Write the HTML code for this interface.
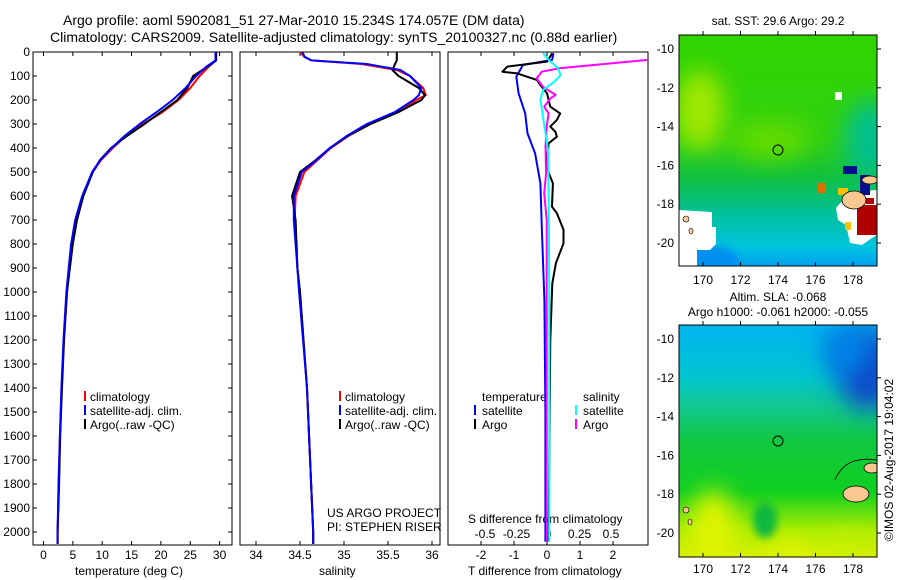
<!DOCTYPE html>
<html><head><meta charset="utf-8"><style>
html,body{margin:0;padding:0;background:#fff;}
svg{display:block;font-family:"Liberation Sans",sans-serif;}
text{font-size:12px;fill:#000;}
</style></head><body>
<svg id="fig" width="900" height="580" viewBox="0 0 900 580">
<defs>
<clipPath id="c1"><rect x="33" y="52" width="199" height="493"/></clipPath>
<clipPath id="c2"><rect x="240" y="52" width="200" height="493"/></clipPath>
<clipPath id="c3"><rect x="448" y="52" width="200" height="493"/></clipPath>
<clipPath id="cm1"><rect x="679" y="35" width="198" height="231"/></clipPath>
<clipPath id="cm2"><rect x="679" y="325" width="198" height="232"/></clipPath>
<filter id="bl" x="-50%" y="-50%" width="200%" height="200%"><feGaussianBlur stdDeviation="12"/></filter>
<filter id="bl2" x="-50%" y="-50%" width="200%" height="200%"><feGaussianBlur stdDeviation="4"/></filter>
<linearGradient id="g1" x1="0" y1="0" x2="0" y2="1">
<stop offset="0" stop-color="#30d400"/><stop offset="0.45" stop-color="#30d010"/><stop offset="0.62" stop-color="#10c040"/><stop offset="0.78" stop-color="#00c0a0"/><stop offset="0.92" stop-color="#00c4e0"/><stop offset="1" stop-color="#00a0f0"/></linearGradient>
<linearGradient id="g2" x1="0" y1="0" x2="0" y2="1">
<stop offset="0" stop-color="#00b4f0"/><stop offset="0.22" stop-color="#00c4d0"/><stop offset="0.35" stop-color="#10c890"/><stop offset="0.5" stop-color="#10c840"/><stop offset="0.72" stop-color="#10d020"/><stop offset="0.88" stop-color="#a8ec00"/><stop offset="1" stop-color="#d8f000"/></linearGradient>
</defs>

<text x="63" y="25" style="font-size:14px">Argo profile: aoml 5902081_51 27-Mar-2010 15.234S 174.057E (DM data)</text>
<text x="50" y="42" style="font-size:14px">Climatology: CARS2009. Satellite-adjusted climatology: synTS_20100327.nc (0.88d earlier)</text>

<g id="p1"><rect x="33" y="52" width="199" height="493" fill="none" stroke="#000"/></g>
<g id="p2"><rect x="240" y="52" width="200" height="493" fill="none" stroke="#000"/></g>
<g id="p3"><rect x="448" y="52" width="200" height="493" fill="none" stroke="#000"/></g>

<g>
<rect x="84" y="391" width="2" height="10" fill="#f00"/><text x="90" y="401">climatology</text>
<rect x="84" y="405" width="2" height="10" fill="#00f"/><text x="90" y="415">satellite-adj. clim.</text>
<rect x="84" y="419" width="2" height="10" fill="#000"/><text x="90" y="429">Argo(..raw -QC)</text>
</g>
<g>
<rect x="339" y="391" width="2" height="10" fill="#f00"/><text x="345" y="401">climatology</text>
<rect x="339" y="405" width="2" height="10" fill="#00f"/><text x="345" y="415">satellite-adj. clim.</text>
<rect x="339" y="419" width="2" height="10" fill="#000"/><text x="345" y="429">Argo(..raw -QC)</text>
</g>
<text x="327" y="517">US ARGO PROJECT</text>
<text x="327" y="531">PI: STEPHEN RISER</text>
<g>
<text x="482" y="401">temperature</text><text x="583" y="401">salinity</text>
<rect x="474" y="405" width="2" height="10" fill="#00f"/><text x="482" y="415">satellite</text>
<rect x="474" y="419" width="2" height="10" fill="#000"/><text x="482" y="429">Argo</text>
<rect x="575" y="405" width="2" height="10" fill="#0ff"/><text x="583" y="415">satellite</text>
<rect x="575" y="419" width="2" height="10" fill="#f0f"/><text x="583" y="429">Argo</text>
</g>
<text x="468" y="523">S difference from climatology</text>
<text x="75" y="575">temperature (deg C)</text>
<text x="319" y="575">salinity</text>
<text x="468" y="575">T difference from climatology</text>

<g>
<g clip-path="url(#cm1)">
<rect x="679" y="35" width="198" height="231" fill="url(#g1)"/>
<ellipse cx="700" cy="110" rx="25" ry="40" fill="#a0e800" filter="url(#bl)"/>
<ellipse cx="770" cy="140" rx="40" ry="20" fill="#60dc00" filter="url(#bl)"/>
<ellipse cx="870" cy="140" rx="25" ry="40" fill="#00c090" filter="url(#bl)"/>
<ellipse cx="700" cy="262" rx="40" ry="18" fill="#0090f0" filter="url(#bl2)"/>
<path d="M679 210 L712 212 L712 227 L716 227 L716 244 L710 250 L697 250 L697 266 L679 266Z" fill="#fff"/>
<path d="M877 190 L850 192 L843 200 L836 208 L838 220 L846 225 L850 243 L862 245 L872 238 L877 235Z" fill="#fff"/>
<rect x="835" y="92" width="7" height="8" fill="#fff"/>
<rect x="843" y="166" width="14" height="8" fill="#00108c"/>
<rect x="860" y="175" width="10" height="20" fill="#00108c"/>
<rect x="857" y="205" width="20" height="30" fill="#b00000"/>
<rect x="866" y="198" width="8" height="6" fill="#b00000"/>
<rect x="818" y="183" width="8" height="10" fill="#e07000"/>
<rect x="845" y="222" width="6" height="8" fill="#f8c000"/>
<rect x="838" y="188" width="10" height="7" fill="#f8c000"/>
<ellipse cx="854" cy="200" rx="12" ry="9" fill="#f8c890" stroke="#000" stroke-width="0.8"/>
<ellipse cx="870" cy="180" rx="8" ry="4" fill="#f8c890" stroke="#000" stroke-width="0.8"/>
<ellipse cx="686" cy="219" rx="3" ry="3" fill="#f8c890" stroke="#000" stroke-width="0.6"/>
<ellipse cx="691" cy="231" rx="2" ry="3" fill="#f8c890" stroke="#000" stroke-width="0.6"/>
<circle cx="778" cy="150" r="5" fill="none" stroke="#000"/>
</g>
<rect x="679" y="35" width="198" height="231" fill="none" stroke="#000"/>
</g>
<text x="778" y="25" text-anchor="middle">sat. SST: 29.6 Argo: 29.2</text>

<g>
<g clip-path="url(#cm2)">
<rect x="679" y="325" width="198" height="232" fill="url(#g2)"/>
<ellipse cx="868" cy="370" rx="30" ry="40" fill="#1048c8" filter="url(#bl)"/>
<ellipse cx="845" cy="350" rx="25" ry="25" fill="#0080e8" filter="url(#bl)"/>
<ellipse cx="713" cy="530" rx="22" ry="40" fill="#e0f400" filter="url(#bl)"/>
<ellipse cx="790" cy="555" rx="20" ry="14" fill="#e0f400" filter="url(#bl)"/>
<ellipse cx="846" cy="550" rx="18" ry="14" fill="#c8f000" filter="url(#bl)"/>
<ellipse cx="765" cy="520" rx="12" ry="18" fill="#10b840" filter="url(#bl2)"/>
<ellipse cx="856" cy="494" rx="13" ry="8" fill="#f8c890" stroke="#000" stroke-width="0.8"/>
<ellipse cx="872" cy="468" rx="8" ry="5" fill="#f8c890" stroke="#000" stroke-width="0.8"/>
<path d="M835 480 Q845 455 877 460" fill="none" stroke="#000" stroke-width="0.8"/>
<ellipse cx="686" cy="510" rx="3" ry="3" fill="#f8c890" stroke="#000" stroke-width="0.6"/>
<ellipse cx="690" cy="522" rx="2" ry="3" fill="#f8c890" stroke="#000" stroke-width="0.6"/>
<circle cx="778" cy="441" r="5" fill="none" stroke="#000"/>
</g>
<rect x="679" y="325" width="198" height="232" fill="none" stroke="#000"/>
</g>
<text x="778" y="301" text-anchor="middle">Altim. SLA: -0.068</text>
<text x="778" y="316" text-anchor="middle">Argo h1000: -0.061 h2000: -0.055</text>
<text transform="translate(893,460) rotate(-90)" text-anchor="middle">©IMOS 02-Aug-2017 19:04:02</text>
</svg>

<script>
const NS='http://www.w3.org/2000/svg';
const svg=document.getElementById('fig');
const depthTicks=[0,100,200,300,400,500,600,700,800,900,1000,1100,1200,1300,1400,1500,1600,1700,1800,1900,2000];
const tempTicks=[0,5,10,15,20,25,30];
const salTicks=[34,34.5,35,35.5,36];
const tdiffTicks=[-2,-1,0,1,2];
const sdiffTicks=[-0.5,-0.25,0,0.25,0.5];
const lonTicks=[170,172,174,176,178];
const latTicks=[-10,-12,-14,-16,-18,-20];

const tempDepth=[0,35,60,100,150,200,250,300,350,400,450,500,600,700,800,900,1000,1200,1400,1600,1800,2000,2050];
const tempClim=[29.4,29.4,28.2,26.6,25.0,23.0,20.3,17.0,14.0,11.8,9.8,8.4,6.7,5.6,4.9,4.4,4.0,3.5,3.1,2.8,2.6,2.4,2.4];
const tempSat=[29.3,29.3,27.8,26.0,24.2,22.0,19.3,16.4,13.8,11.6,9.7,8.3,6.6,5.4,4.7,4.3,3.9,3.4,3.05,2.8,2.55,2.4,2.4];
const tempArgo=[29.4,29.4,28.0,25.5,24.5,22.8,20.0,17.2,14.2,11.5,9.6,8.4,6.8,5.7,5.0,4.5,4.0,3.5,3.15,2.85,2.65,2.4,2.4];

const salDepth=[0,20,35,50,75,100,150,180,200,250,300,350,400,450,500,600,700,800,900,1000,1400,2000,2050];
const salClim=[34.5,34.55,34.63,35.2,35.6,35.75,35.9,35.93,35.82,35.62,35.3,35.05,34.85,34.7,34.55,34.45,34.44,34.46,34.47,34.5,34.58,34.65,34.65];
const salSat=[34.53,34.55,34.63,35.26,35.64,35.75,35.88,35.85,35.79,35.58,35.26,35.03,34.84,34.69,34.52,34.43,34.43,34.45,34.47,34.49,34.58,34.65,34.65];
const salArgo=[35.6,35.6,35.6,35.58,35.55,35.62,35.85,35.92,35.88,35.62,35.3,35.04,34.84,34.68,34.5,34.41,34.45,34.46,34.47,34.5,34.58,34.65,34.65];

const tSatDepth=[5,33,54,103,172,256,339,422,547,755,1033,1500,2040];
const tSatDiff=[0.2,0.15,-0.73,-0.93,-0.86,-0.66,-0.59,-0.36,-0.2,-0.15,-0.08,-0.05,-0.05];
const tArgoDepth=[5,40,61,82,89,117,138,172,228,256,283,311,332,353,381,478,547,644,672,741,797,880,964,1200,2040];
const tArgoDiff=[0.16,0.0,-1.2,-1.35,-0.9,-0.3,-0.2,0,0.1,0.4,0.3,0.1,0.25,0.3,0.05,-0.02,0.18,0.15,0.3,0.5,0.5,0.27,0.16,0.1,0.05];
const sSatDepth=[5,33,68,96,124,158,200,270,408,600,1000,2040];
const sSatDiff=[-0.04,0.005,0.08,0.1,0.05,-0.04,-0.06,-0.04,0,0.005,0.01,0.01];
const sArgoDepth=[20,33,68,82,110,145,179,193,228,256,311,394,506,589,700,1000,2040];
const sArgoDiff=[0.9,0.79,0.09,-0.05,-0.09,-0.04,0.06,0.02,-0.03,0.005,-0.01,-0.02,-0.015,-0.03,-0.01,-0.01,-0.01];

const yD=d=>52+d*0.24;
const xT=t=>43.5+t*5.87;
const xS=s=>256+(s-34)*88;
const xTd=v=>547+v*33;
const xSd=v=>548+v*126;
const xLon=l=>703+(l-170)*18.75;
const yLat1=l=>49+(-10-l)*19.4;
const yLat2=l=>339+(-10-l)*19.4;

function mk(tag,attrs,parent){const e=document.createElementNS(NS,tag);for(const k in attrs)e.setAttribute(k,attrs[k]);(parent||svg).appendChild(e);return e;}

depthTicks.forEach(d=>{
 const t=mk('text',{x:30,y:yD(d)+4,'text-anchor':'end'});t.textContent=d;
 
 
 mk('line',{x1:33,x2:37,y1:yD(d),y2:yD(d),stroke:'#000'});
 mk('line',{x1:228,x2:232,y1:yD(d),y2:yD(d),stroke:'#000'});
});
function xaxis(ticks,fx,y,name,top,bottom){ticks.forEach(v=>{
 const t=mk('text',{x:fx(v),y:y,'text-anchor':'middle'});t.textContent=v;
 
 
 if(top!==undefined)mk('line',{x1:fx(v),x2:fx(v),y1:top,y2:top+4,stroke:'#000'});
 if(bottom!==undefined)mk('line',{x1:fx(v),x2:fx(v),y1:bottom-4,y2:bottom,stroke:'#000'});
});}
xaxis(tempTicks,xT,559,'temperature-tick-label',52,545);
xaxis(salTicks,v=>xS(v),559,'salinity-tick-label',52,545);
xaxis(tdiffTicks,xTd,559,'t-diff-tick-label',52,545);
xaxis(sdiffTicks,v=>xSd(v),538,'s-diff-tick-label');
function lonaxis(y,top,bot){lonTicks.forEach(l=>{
 const t=mk('text',{x:xLon(l),y:y,'text-anchor':'middle'});t.textContent=l;
 
 
 mk('line',{x1:xLon(l),x2:xLon(l),y1:top-4,y2:top,stroke:'#000'});
 mk('line',{x1:xLon(l),x2:xLon(l),y1:bot-4,y2:bot,stroke:'#000'});
});}
lonaxis(284,35,266);lonaxis(573,325,557);
function lataxis(fy){latTicks.forEach(l=>{
 const t=mk('text',{x:674,y:fy(l)+4,'text-anchor':'end'});t.textContent=l;
 
 
 mk('line',{x1:877,x2:881,y1:fy(l),y2:fy(l),stroke:'#000'});
});}
lataxis(yLat1);lataxis(yLat2);

function line(depths,vals,fx,color,clip,name,w){
 const pts=depths.map((d,i)=>fx(vals[i]).toFixed(1)+','+yD(d).toFixed(1));
 const p=mk('polyline',{points:pts.join(' '),fill:'none',stroke:color,'stroke-width':w||2,'clip-path':'url(#'+clip+')','stroke-linejoin':'round'});
 
 
}
line(tempDepth,tempClim,xT,'#f00','c1','temp-climatology-line');
line(tempDepth,tempArgo,xT,'#000','c1','temp-argo-line');
line(tempDepth,tempSat,xT,'#00f','c1','temp-satellite-line');
line(salDepth,salClim,xS,'#f00','c2','sal-climatology-line');
line(salDepth,salArgo,xS,'#000','c2','sal-argo-line');
line(salDepth,salSat,xS,'#00f','c2','sal-satellite-line');
line(tSatDepth,tSatDiff,xTd,'#00f','c3','tdiff-satellite-line');
line(tArgoDepth,tArgoDiff,xTd,'#000','c3','tdiff-argo-line');
line(sArgoDepth,sArgoDiff,xSd,'#f0f','c3','sdiff-argo-line');
line(sSatDepth,sSatDiff,xSd,'#0ff','c3','sdiff-satellite-line');
</script>
</body></html>
